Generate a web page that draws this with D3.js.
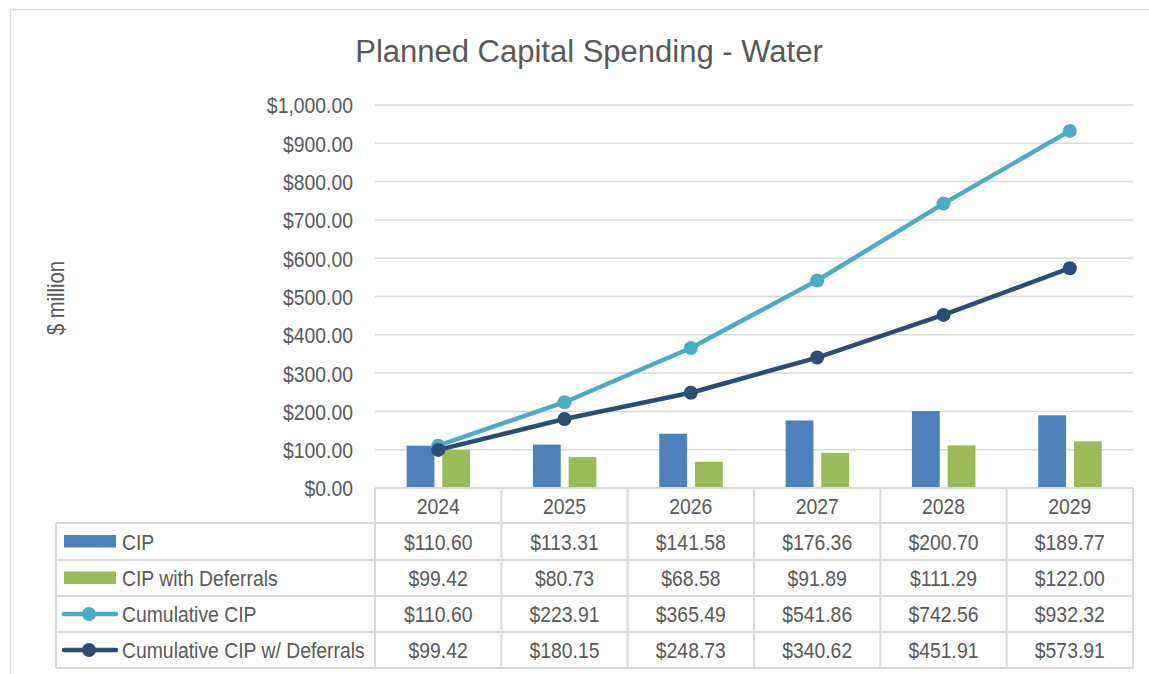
<!DOCTYPE html>
<html>
<head>
<meta charset="utf-8">
<script src="https://cdn.jsdelivr.net/npm/d3@7"></script>
<style>
  body { margin: 0; background: #fff; }
  svg text { font-family: "Liberation Sans", Arial, sans-serif; fill: #595959; }
</style>
</head>
<body>
<svg id="chart" width="1149" height="674"></svg>
<script>
const years = ["2024", "2025", "2026", "2027", "2028", "2029"]
const cip = [110.60, 113.31, 141.58, 176.36, 200.70, 189.77]
const cipDeferrals = [99.42, 80.73, 68.58, 91.89, 111.29, 122.00]
const cumCip = [110.60, 223.91, 365.49, 541.86, 742.56, 932.32]
const cumDeferrals = [99.42, 180.15, 248.73, 340.62, 451.91, 573.91]
const yTicks = [0, 100, 200, 300, 400, 500, 600, 700, 800, 900, 1000]

const series = [
  {name: "CIP", values: cip, color: "#4f81bd", type: "bar"},
  {name: "CIP with Deferrals", values: cipDeferrals, color: "#9bbb59", type: "bar"},
  {name: "Cumulative CIP", values: cumCip, color: "#4bacc6", type: "line"},
  {name: "Cumulative CIP w/ Deferrals", values: cumDeferrals, color: "#2c4d75", type: "line"}
]

const svg = d3.select("#chart")
const plot = {left: 375, right: 1133, top: 105, bottom: 488}
const tableLeft = 56
const rowEdges = [488, 523, 560, 596, 632, 668]
const fmt = d3.format("$,.2f")
const narrow = 0.88   // squeeze to look like Arial Narrow

// text helper, drawn at (x,y) and squeezed horizontally
function ntext(g, x, y, str, size, anchor) {
  return g.append("text")
    .attr("transform", `translate(${x},${y}) scale(${narrow},1)`)
    .attr("text-anchor", anchor || "start")
    .style("font-size", size + "px")
    .text(str)
}

// outer frame
svg.append("path").attr("d", "M10.5,674 V9.5 H1149").attr("fill", "none").attr("stroke", "#d9d9d9").attr("stroke-width", 1.5)

svg.append("text").attr("x", 589).attr("y", 62).attr("text-anchor", "middle")
  .style("font-size", "31px").text("Planned Capital Spending - Water")

const x = d3.scaleBand().domain(years).range([plot.left, plot.right])
const y = d3.scaleLinear().domain([0, 1000]).range([plot.bottom, plot.top])
const xb = d3.scaleBand().domain(["CIP", "CIP with Deferrals"]).range([0, 63.5]).paddingInner(0.22)

// gridlines
svg.append("g").selectAll("line").data(yTicks.slice(1)).join("line")
  .attr("x1", plot.left).attr("x2", plot.right)
  .attr("y1", d => y(d)).attr("y2", d => y(d))
  .attr("stroke", "#d9d9d9").attr("stroke-width", 1.5)

// y axis labels
const yAxis = svg.append("g").attr("transform", `translate(${plot.left},0)`)
  .call(d3.axisLeft(y).tickValues(yTicks).tickFormat(fmt).tickSize(0).tickPadding(22))
yAxis.select(".domain").remove()
yAxis.selectAll("text")
  .attr("x", 0).attr("dy", "0.36em")
  .attr("transform", `translate(-22,0) scale(${narrow},1)`)
  .style("font-size", "22px").attr("fill", "#595959")

svg.append("text").attr("transform", `translate(64,298) rotate(-90) scale(${narrow},1)`).attr("text-anchor", "middle")
  .style("font-size", "23px").text("$ million")

// bars
series.filter(s => s.type === "bar").forEach(s => {
  svg.append("g").selectAll("rect").data(s.values).join("rect")
    .attr("x", (d, i) => x(years[i]) + 31.6 + xb(s.name))
    .attr("y", d => y(d))
    .attr("width", xb.bandwidth())
    .attr("height", d => y(0) - y(d))
    .attr("fill", s.color)
})

// lines
const cx = i => x(years[i]) + x.bandwidth() / 2
series.filter(s => s.type === "line").forEach(s => {
  const line = d3.line().x((d, i) => cx(i)).y(d => y(d))
  svg.append("path").datum(s.values).attr("d", line)
    .attr("fill", "none").attr("stroke", s.color).attr("stroke-width", 4.5).attr("stroke-linejoin", "round")
  svg.append("g").selectAll("circle").data(s.values).join("circle")
    .attr("cx", (d, i) => cx(i)).attr("cy", d => y(d)).attr("r", 7).attr("fill", s.color)
})

// data table
const grid = svg.append("g").attr("stroke", "#d9d9d9").attr("stroke-width", 2)
grid.append("line").attr("x1", plot.left).attr("x2", plot.right).attr("y1", rowEdges[0]).attr("y2", rowEdges[0])
rowEdges.slice(1).forEach(r => {
  grid.append("line").attr("x1", tableLeft).attr("x2", plot.right).attr("y1", r).attr("y2", r)
})
grid.append("line").attr("x1", tableLeft).attr("x2", tableLeft).attr("y1", rowEdges[1]).attr("y2", rowEdges[5])
years.concat(["end"]).forEach((yr, i) => {
  const xx = plot.left + i * x.bandwidth()
  grid.append("line").attr("x1", xx).attr("x2", xx).attr("y1", rowEdges[0]).attr("y2", rowEdges[5])
})

const head = svg.append("g")
years.forEach(d => ntext(head, x(d) + x.bandwidth() / 2, (rowEdges[0] + rowEdges[1]) / 2 + 8, d, 22, "middle"))

series.forEach((s, r) => {
  const mid = (rowEdges[r + 1] + rowEdges[r + 2]) / 2
  const g = svg.append("g")
  if (s.type === "bar") {
    g.append("rect").attr("x", 64).attr("y", mid - 6.5).attr("width", 52).attr("height", 12.5).attr("fill", s.color)
  } else {
    g.append("line").attr("x1", 64).attr("x2", 116).attr("y1", mid).attr("y2", mid)
      .attr("stroke", s.color).attr("stroke-width", 4.5).attr("stroke-linecap", "round")
    g.append("circle").attr("cx", 89).attr("cy", mid).attr("r", 7).attr("fill", s.color)
  }
  ntext(g, 122, mid + 8, s.name, 22)
  s.values.forEach((d, i) => ntext(g, cx(i), mid + 8, fmt(d), 22, "middle"))
})
</script>
</body>
</html>
